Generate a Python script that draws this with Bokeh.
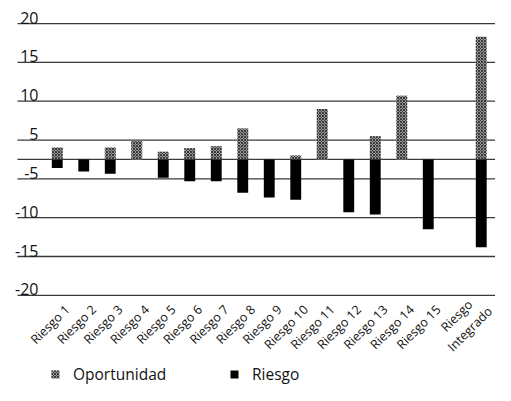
import numpy as np
from bokeh.plotting import figure
from bokeh.models import Range1d, Legend, LegendItem
from bokeh.core.properties import value
from bokeh.embed import file_html
from bokeh.resources import INLINE

# ---------------- data ----------------
categories = ["Riesgo 1", "Riesgo 2", "Riesgo 3", "Riesgo 4", "Riesgo 5",
              "Riesgo 6", "Riesgo 7", "Riesgo 8", "Riesgo 9", "Riesgo 10",
              "Riesgo 11", "Riesgo 12", "Riesgo 13", "Riesgo 14", "Riesgo 15",
              "Riesgo\nIntegrado"]
oportunidad = [3.1, 0, 3.1, 4.9, 2.0, 2.9, 3.4, 6.5, 0, 1.0, 9.0, 0, 5.5, 10.7, 0, 18.3]
riesgo = [-2.2, -3.1, -3.7, 0, -4.7, -5.3, -5.3, -6.8, -7.4, -7.7, 0, -9.3, -9.6, 0, -11.5, -13.8]
tick_labels = [20, 15, 10, 5, -5, -10, -15, -20]
series_names = ["Oportunidad", "Riesgo"]

# ---------------- axis mapping (equally spaced gridlines) ----------------
tick_pos = 20 - 5 * np.arange(len(tick_labels))          # 20 ... -15
lab_sorted = np.array(sorted(tick_labels), dtype=float)
pos_sorted = np.array(sorted(tick_pos), dtype=float)


def to_t(v):
    return np.interp(np.asarray(v, dtype=float), lab_sorted, pos_sorted)


base = float(to_t(0))

# slots: one empty slot before the first and one before the integrated risk
xs = np.array([i + 1.5 if i < 15 else i + 2.5 for i in range(len(categories))])

# ---------------- figure geometry ----------------
W, H = 495, 385
PX = 7.766                 # pixels per unit
y_base_px = 158.94         # px (from top) of the baseline
SW = 26.5                  # slot width in px
LEFT = 17.0                # px of the left end of the gridlines
x_start = -LEFT / SW
x_end = x_start + W / SW
y_top = base + y_base_px / PX
y_bot = base - (H - y_base_px) / PX

p = figure(width=W, height=H, x_range=Range1d(x_start, x_end),
           y_range=Range1d(y_bot, y_top), output_backend="svg",
           toolbar_location=None, x_axis_location=None, y_axis_location=None,
           min_border=0)
p.grid.visible = False
p.outline_line_color = None
p.background_fill_color = "white"
p.border_fill_color = "white"

FONT = value("Open Sans")
GRID = "#3a3a3a"

# gridlines + baseline
p.segment(x0=0, x1=x_end, y0=tick_pos, y1=tick_pos, line_color=GRID, line_width=1.3)
p.segment(x0=[0], x1=[x_end], y0=[base], y1=[base], line_color=GRID, line_width=1.3)

# bars
opp_r = p.vbar(x=xs, width=0.41, bottom=base, top=to_t(oportunidad),
               fill_color="#969696", hatch_pattern="diagonal_cross",
               hatch_color="#3a3a3a", hatch_scale=3, hatch_weight=1,
               line_color=None)
risk_r = p.vbar(x=xs, width=0.41, top=base, bottom=to_t(riesgo),
                fill_color="black", line_color=None)

# y tick labels (inside the plot, above each gridline)
p.text(x=np.zeros(len(tick_labels)), y=tick_pos,
       text=[str(v) for v in tick_labels], text_align="right",
       text_baseline="bottom", x_offset=21, text_font=FONT,
       text_font_size="16px", text_color="#111111")

# x category labels, rotated
single = [i for i, c in enumerate(categories) if "\n" not in c]
multi = [i for i, c in enumerate(categories) if "\n" in c]
t_axis = float(tick_pos.min())
p.text(x=xs[single], y=np.full(len(single), t_axis - 12.0 / PX),
       text=[categories[i] for i in single], angle=np.pi / 4,
       text_align="right", text_baseline="middle", x_offset=10,
       text_font=FONT, text_font_size="12.5px", text_color="#111111")
p.text(x=xs[multi], y=np.full(len(multi), t_axis - 27.0 / PX),
       text=[categories[i] for i in multi], angle=np.pi / 4,
       text_align="center", text_baseline="middle", x_offset=-18,
       text_font=FONT, text_font_size="12.5px", text_color="#111111",
       text_line_height=1.1)

# legends
for name, rend, loc in [(series_names[0], opp_r, (50, 0)),
                        (series_names[1], risk_r, (229, 0))]:
    leg = Legend(items=[LegendItem(label=name, renderers=[rend])], location=loc,
                 orientation="horizontal", padding=0, margin=0, spacing=0,
                 glyph_width=10, glyph_height=10, label_standoff=13,
                 label_text_font="Open Sans", label_text_font_size="15.5px",
                 label_text_color="#111111", border_line_color=None,
                 background_fill_alpha=0)
    p.add_layout(leg, "center")

open("out.html", "w").write(file_html(p, INLINE))
